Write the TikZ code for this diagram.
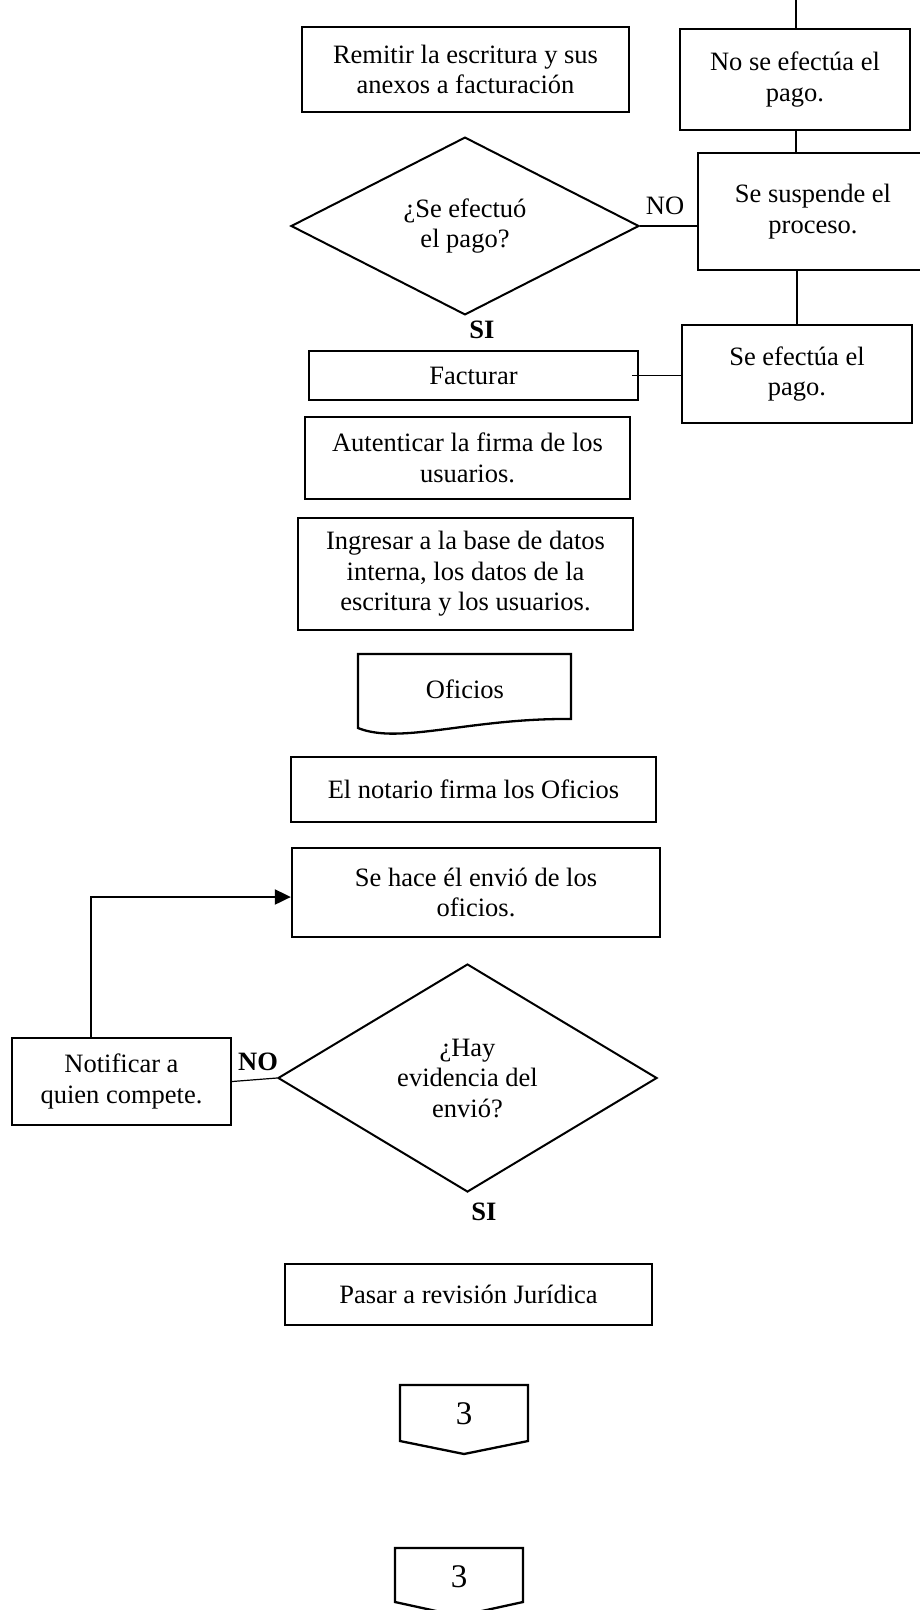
\documentclass[tikz,border=0pt]{standalone}
\usepackage{fontspec}
\setmainfont{Liberation Serif}
\usetikzlibrary{shapes.geometric,arrows.meta}
\newcommand{\myfs}{\fontsize{26.5}{30.5}\selectfont}
\newcommand{\mybigfs}{\fontsize{33}{36}\selectfont}
\begin{document}
\begin{tikzpicture}[x=1pt,y=-1pt,
  box/.style={draw, line width=2.3pt, rectangle, inner sep=0pt, align=center, font=\myfs},
  dec/.style={draw, diamond, line width=2pt, inner sep=0pt, align=center, font=\myfs},
  conn/.style={line width=1.2pt},
  shp/.style={line width=2.3pt},
  lbl/.style={inner sep=0pt, font=\myfs},
  numlbl/.style={inner sep=0pt, font=\mybigfs},
  blbl/.style={inner sep=0pt, font=\myfs\bfseries}]
\useasboundingbox (0,0) rectangle (920,1610);
\clip (0,0) rectangle (920,1610);

\node[box, minimum width=327pt, minimum height=85pt] (remitir) at (465.5,69.5) {Remitir la escritura y sus\\anexos a facturación};
\node[box, minimum width=230pt, minimum height=101pt] (nopago) at (795,79.5) {No se efectúa el\\pago.};
\node[dec, minimum width=348pt, minimum height=172pt] (d1) at (465,226) {¿Se efectuó\\el pago?};
\node[box, minimum width=230pt, minimum height=117pt] (susp) at (813,211.5) {Se suspende el\\proceso.};
\node[box, minimum width=230pt, minimum height=98pt] (efect) at (797,374) {Se efectúa el\\pago.};
\node[box, minimum width=329pt, minimum height=49pt] (fact) at (473.5,375.5) {Facturar};
\node[box, minimum width=325pt, minimum height=82pt] (auten) at (467.5,458) {Autenticar la firma de los\\usuarios.};
\node[box, minimum width=335pt, minimum height=112pt] (ingr) at (465.5,574) {Ingresar a la base de datos\\interna, los datos de la\\escritura y los usuarios.};

\draw[shp] (358,654) -- (571,654) -- (571,719) .. controls (470,718) and (400,745) .. (358,728) -- cycle;
\node[lbl] (ofic) at (465,689) {Oficios};

\node[box, minimum width=365pt, minimum height=65pt] (notario) at (473.5,789.5) {El notario firma los Oficios};
\node[box, minimum width=368pt, minimum height=89pt] (envio) at (476,892.5) {Se hace él envió de los\\oficios.};
\node[dec, minimum width=379pt, minimum height=228pt] (d2) at (467.5,1078) {¿Hay\\evidencia del\\envió?};
\node[box, minimum width=219pt, minimum height=87pt] (notif) at (121.5,1081.5) {Notificar a\\quien compete.};
\node[box, minimum width=367pt, minimum height=61pt] (pasar) at (468.5,1294.5) {Pasar a revisión Jurídica};

\draw[shp] (400,1385) -- (528,1385) -- (528,1441) -- (464,1454) -- (400,1441) -- cycle;
\node[numlbl] (c1) at (464,1414) {3};
\draw[shp] (395,1548) -- (523,1548) -- (523,1602) -- (459,1616) -- (395,1602) -- cycle;
\node[numlbl] (c2) at (459,1577) {3};

\node[lbl] (no1) at (665,206) {NO};
\node[blbl] (si1) at (482,330) {SI};
\node[blbl] (no2) at (258,1062) {NO};
\node[blbl] (si2) at (484,1212) {SI};

\coordinate (top) at (796,0);
\draw[conn] (top) -- (top |- nopago.north);
\draw[conn] (nopago.south -| top) -- (susp.north -| top);
\draw[conn] (d1.east) -- (d1.east -| susp.west);
\draw[conn] (susp.south -| efect.north) -- (efect.north);
\draw[conn] ([xshift=-7pt]fact.east) -- (fact.east -| efect.west);
\draw[line width=2pt, -{Triangle[length=16pt,width=15pt]}] ([xshift=-31pt]notif.north) |- ([yshift=-4.5pt]envio.west);
\draw[conn] (notif.east) -- (d2.west);
\end{tikzpicture}
\end{document}
